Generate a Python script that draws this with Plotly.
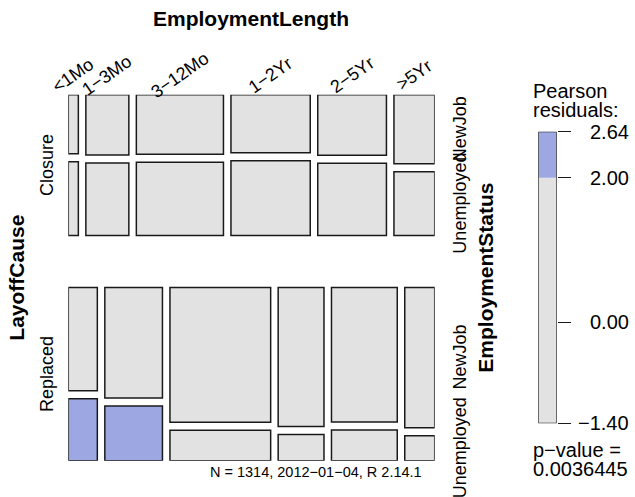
import numpy as np
import plotly.graph_objects as go

# ---------------- data ----------------
causes = ["Closure", "Replaced"]
lengths = ["<1Mo", "1\u22123Mo", "3\u221212Mo", "1\u22122Yr", "2\u22125Yr", ">5Yr"]
statuses = ["NewJob", "Unemployed"]
closure_newjob = [8, 35, 70, 62, 56, 38]
closure_unemployed = [10, 42, 86, 80, 67, 35]
replaced_newjob = [40, 85, 181, 85, 118, 56]
replaced_unemployed = [24, 42, 41, 16, 27, 10]
p_value_text = "0.0036445"
footnote_text = "N = 1314, 2012\u221201\u221204, R 2.14.1"
shade_breaks = [2.0, 0.0]

# ---------------- layout constants ----------------
W, H = 635, 497
FONT = "Liberation Sans, Arial, Helvetica, sans-serif"
M_LEFT, M_RIGHT, M_TOP, M_BOTTOM = 68.3, 434.7, 94.7, 460.7
GAP_X = 7.5 / (M_RIGHT - M_LEFT)
GAP_CAUSE = 52.0 / (M_BOTTOM - M_TOP)
GAP_STATUS = 8.0 / (M_BOTTOM - M_TOP)
GRAY = "#E2E2E2"
BLUE = "#9DA8E2"
RED = "#E2A8A8"
BORDER = "#1a1a1a"
LEG_FONT = 20

def px(x):
    return x / W

def py(y):
    return 1 - y / H

counts = np.array([[closure_newjob, closure_unemployed],
                   [replaced_newjob, replaced_unemployed]], dtype=float)  # [cause, status, length]
N = counts.sum()

# Pearson residuals under [Cause, Length][Cause, Status]
n_cl = counts.sum(axis=1)      # cause x length
n_cs = counts.sum(axis=2)      # cause x status
n_c = counts.sum(axis=(1, 2))  # cause
expected = n_cs[:, :, None] * n_cl[:, None, :] / n_c[:, None, None]
resid = (counts - expected) / np.sqrt(expected)
rmin, rmax = resid.min(), resid.max()

def fill_for(r):
    if r > 2:
        return BLUE
    if r < -2:
        return RED
    return GRAY

fig = go.Figure()
fig.add_trace(go.Scatter(x=[0, 1], y=[0, 1], mode="markers", marker=dict(opacity=0),
                         hoverinfo="skip", showlegend=False, xaxis="x", yaxis="y"))
fig.add_trace(go.Scatter(x=[0, 1], y=[rmin, rmax], mode="markers", marker=dict(opacity=0),
                         hoverinfo="skip", showlegend=False, xaxis="x2", yaxis="y2"))

shapes = []
annotations = []
col_centers = None
right_label_pos = []
cause_centers = []

y0 = 0.0
avail_h = 1 - GAP_CAUSE * (len(causes) - 1)
avail_w = 1 - GAP_X * (len(lengths) - 1)
for ci, cause in enumerate(causes):
    h_c = avail_h * n_c[ci] / N
    cause_centers.append(y0 + h_c / 2)
    x0 = 0.0
    centers = []
    for li in range(len(lengths)):
        w = avail_w * n_cl[ci, li] / n_c[ci]
        centers.append(x0 + w / 2)
        yy = y0
        for si in range(len(statuses)):
            h = (h_c - GAP_STATUS * (len(statuses) - 1)) * counts[ci, si, li] / n_cl[ci, li]
            shapes.append(dict(type="rect", xref="x", yref="y", x0=x0, x1=x0 + w, y0=yy, y1=yy + h,
                               fillcolor=fill_for(resid[ci, si, li]),
                               line=dict(color=BORDER, width=1.5), layer="above"))
            if li == len(lengths) - 1:
                right_label_pos.append((statuses[si], yy + h / 2))
            yy += h + GAP_STATUS
        x0 += w + GAP_X
    if ci == 0:
        col_centers = centers
    y0 += h_c + GAP_CAUSE

# top labels (EmploymentLength levels)
for lab, cx in zip(lengths, col_centers):
    annotations.append(dict(text=lab, x=cx, xref="x", y=py(75), yref="paper",
                            xanchor="center", yanchor="middle", textangle=-35, showarrow=False,
                            font=dict(family=FONT, size=18, color="black")))
# left labels (LayoffCause levels)
for lab, cy in zip(causes, cause_centers):
    annotations.append(dict(text=lab, x=px(47), xref="paper", y=cy, yref="y",
                            xanchor="center", yanchor="middle", textangle=-90, showarrow=False,
                            font=dict(family=FONT, size=18, color="black")))
# right labels (EmploymentStatus levels)
for lab, cy in right_label_pos:
    annotations.append(dict(text=lab, x=px(460), xref="paper", y=cy, yref="y",
                            xanchor="center", yanchor="middle", textangle=-90, showarrow=False,
                            font=dict(family=FONT, size=18, color="black")))

mid_y = py((M_TOP + M_BOTTOM) / 2)
annotations += [
    dict(text="<b>EmploymentLength</b>", x=px((M_LEFT + M_RIGHT) / 2), y=py(18), xref="paper", yref="paper",
         xanchor="center", yanchor="middle", showarrow=False, font=dict(family=FONT, size=21, color="black")),
    dict(text="<b>LayoffCause</b>", x=px(17), y=mid_y, xref="paper", yref="paper", textangle=-90,
         xanchor="center", yanchor="middle", showarrow=False, font=dict(family=FONT, size=21, color="black")),
    dict(text="<b>EmploymentStatus</b>", x=px(486), y=mid_y, xref="paper", yref="paper", textangle=-90,
         xanchor="center", yanchor="middle", showarrow=False, font=dict(family=FONT, size=21, color="black")),
    dict(text=footnote_text, x=px(316), y=py(472), xref="paper", yref="paper",
         xanchor="center", yanchor="middle", showarrow=False, font=dict(family=FONT, size=14.5, color="black")),
    dict(text="Pearson", x=px(531), y=py(91), xref="paper", yref="paper",
         xanchor="left", yanchor="middle", showarrow=False, font=dict(family=FONT, size=LEG_FONT, color="black")),
    dict(text="residuals:", x=px(531), y=py(110), xref="paper", yref="paper",
         xanchor="left", yanchor="middle", showarrow=False, font=dict(family=FONT, size=LEG_FONT, color="black")),
    dict(text="p\u2212value =", x=px(531), y=py(450), xref="paper", yref="paper",
         xanchor="left", yanchor="middle", showarrow=False, font=dict(family=FONT, size=LEG_FONT, color="black")),
    dict(text=p_value_text, x=px(531), y=py(469), xref="paper", yref="paper",
         xanchor="left", yanchor="middle", showarrow=False, font=dict(family=FONT, size=LEG_FONT, color="black")),
]

# legend bar
legend_ticks = [rmin, 0.0, 2.0, rmax]
shapes.append(dict(type="rect", xref="x2", yref="y2", x0=0, x1=1, y0=rmin, y1=shade_breaks[0],
                   fillcolor=GRAY, line=dict(width=0)))
shapes.append(dict(type="rect", xref="x2", yref="y2", x0=0, x1=1, y0=shade_breaks[0], y1=rmax,
                   fillcolor=BLUE, line=dict(width=0)))
shapes.append(dict(type="rect", xref="x2", yref="y2", x0=0, x1=1, y0=rmin, y1=rmax,
                   fillcolor="rgba(0,0,0,0)", line=dict(color=BORDER, width=1.2)))
for v in legend_ticks:
    annotations.append(dict(text=f"{v:.2f}".replace("-", "\u2212"), x=px(631), xref="paper", y=v, yref="y2",
                            xanchor="right", yanchor="middle", showarrow=False,
                            font=dict(family=FONT, size=LEG_FONT, color="black")))

fig.update_layout(
    width=W, height=H, autosize=False,
    margin=dict(l=0, r=0, t=0, b=0, pad=0),
    paper_bgcolor="white", plot_bgcolor="white",
    showlegend=False,
    xaxis=dict(domain=[px(M_LEFT), px(M_RIGHT)], range=[0, 1], visible=False, fixedrange=True),
    yaxis=dict(domain=[py(M_BOTTOM), py(M_TOP)], range=[1, 0], visible=False, fixedrange=True),
    xaxis2=dict(domain=[px(538.3), px(556.7)], range=[0, 1], visible=False, anchor="y2", fixedrange=True),
    yaxis2=dict(domain=[py(423.3), py(131.7)], range=[rmin, rmax], anchor="x2", side="right",
                showgrid=False, zeroline=False, showline=False, showticklabels=False,
                ticks="outside", ticklen=13, tickwidth=1.2, tickcolor=BORDER,
                tickvals=legend_ticks, fixedrange=True),
    shapes=shapes,
    annotations=annotations,
)

fig.write_html("out.html", config={"displayModeBar": False},
               post_script="document.body.style.margin='0px';document.body.style.overflow='hidden';")
